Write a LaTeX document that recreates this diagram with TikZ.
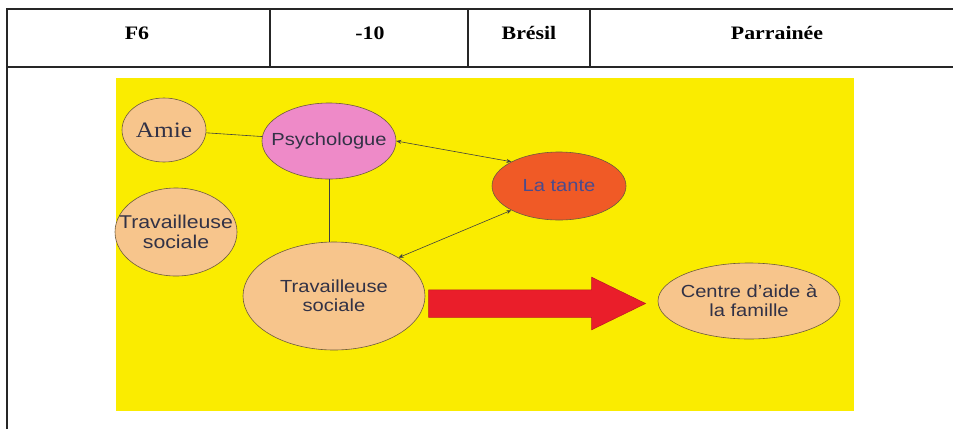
\documentclass[tikz,border=0pt]{standalone}
\usepackage{fontspec}
\setmainfont{Liberation Serif}[FakeStretch=1.15]
\setsansfont{Liberation Sans}[FakeStretch=1.15]
\usetikzlibrary{shapes.geometric,shapes.arrows,arrows.meta}

\definecolor{fond}{RGB}{250,236,0}
\definecolor{peche}{RGB}{247,197,140}
\definecolor{rose}{RGB}{238,138,200}
\definecolor{orangetante}{RGB}{240,90,38}
\definecolor{rouge}{RGB}{234,30,42}
\definecolor{bord}{RGB}{110,90,60}
\definecolor{texte}{RGB}{50,50,70}

\begin{document}
\begin{tikzpicture}[x=1pt,y=-1pt,
    bulle/.style={ellipse,draw=bord,line width=0.6pt,fill=peche,inner sep=-30pt,align=center,
        text=texte,font=\sffamily\fontsize{17.5}{19}\selectfont},
    lien/.style={draw=black!75,line width=0.6pt},
    fleche/.style={lien,{Stealth[length=5pt,width=4pt]}-{Stealth[length=5pt,width=4pt]}},
    entete/.style={font=\bfseries\fontsize{19}{21}\selectfont,anchor=base},
    trait/.style={line width=1.3pt,black!85}]
    \useasboundingbox (0,0) rectangle (953,429);

    % tableau
    \draw[trait] (7,429) -- (7,9) -- (953,9);
    \draw[trait] (7,67) -- (953,67);
    \foreach \x in {270,468,590} \draw[trait] (\x,9) -- (\x,67);

    \node[entete] (code) at (137,39) {F6};
    \node[entete] (age) at (370,39) {-10};
    \node[entete] (pays) at (529,39) {Brésil};
    \node[entete] (statut) at (777,39) {Parrainée};

    % fond jaune
    \fill[fond] (116,78) rectangle (854,411);

    \node[bulle,minimum width=84pt,minimum height=64pt,font=\rmfamily\fontsize{22}{24}\selectfont] (amie) at (164,130) {Amie};
    \node[bulle,fill=rose,minimum width=134pt,minimum height=76pt] (psy) at (329,141) {Psychologue};
    \node[bulle,fill=orangetante,text={rgb,255:red,75;green,75;blue,140},minimum width=134pt,minimum height=68pt] (tante) at (559,186) {La tante};
    \node[bulle,minimum width=122pt,minimum height=88pt,font=\sffamily\fontsize{18.5}{19.5}\selectfont] (ts1) at (176,232) {Travailleuse\\sociale};
    \node[bulle,minimum width=182pt,minimum height=108pt] (ts2) at (334,296) {Travailleuse\\sociale};
    \node[bulle,minimum width=182pt,minimum height=76pt] (centre) at (749,301) {Centre d'aide à\\la famille};

    \draw[lien] (amie) -- (psy);
    \draw[lien] (psy.south) -- (psy.south |- ts2.north);
    \draw[fleche] (psy.east) -- (tante.north west);
    \draw[fleche] (tante.south west) -- (ts2.north east);

    % grosse fleche rouge
    \node[single arrow,draw=rouge!80!black,fill=rouge,line width=0.5pt,inner sep=13.5pt,
        minimum height=217pt,minimum width=52pt,single arrow head extend=12.5pt,
        single arrow tip angle=52,anchor=tail] (vers) at ([xshift=3pt,yshift=-7.5pt]ts2.east) {};
\end{tikzpicture}
\end{document}
